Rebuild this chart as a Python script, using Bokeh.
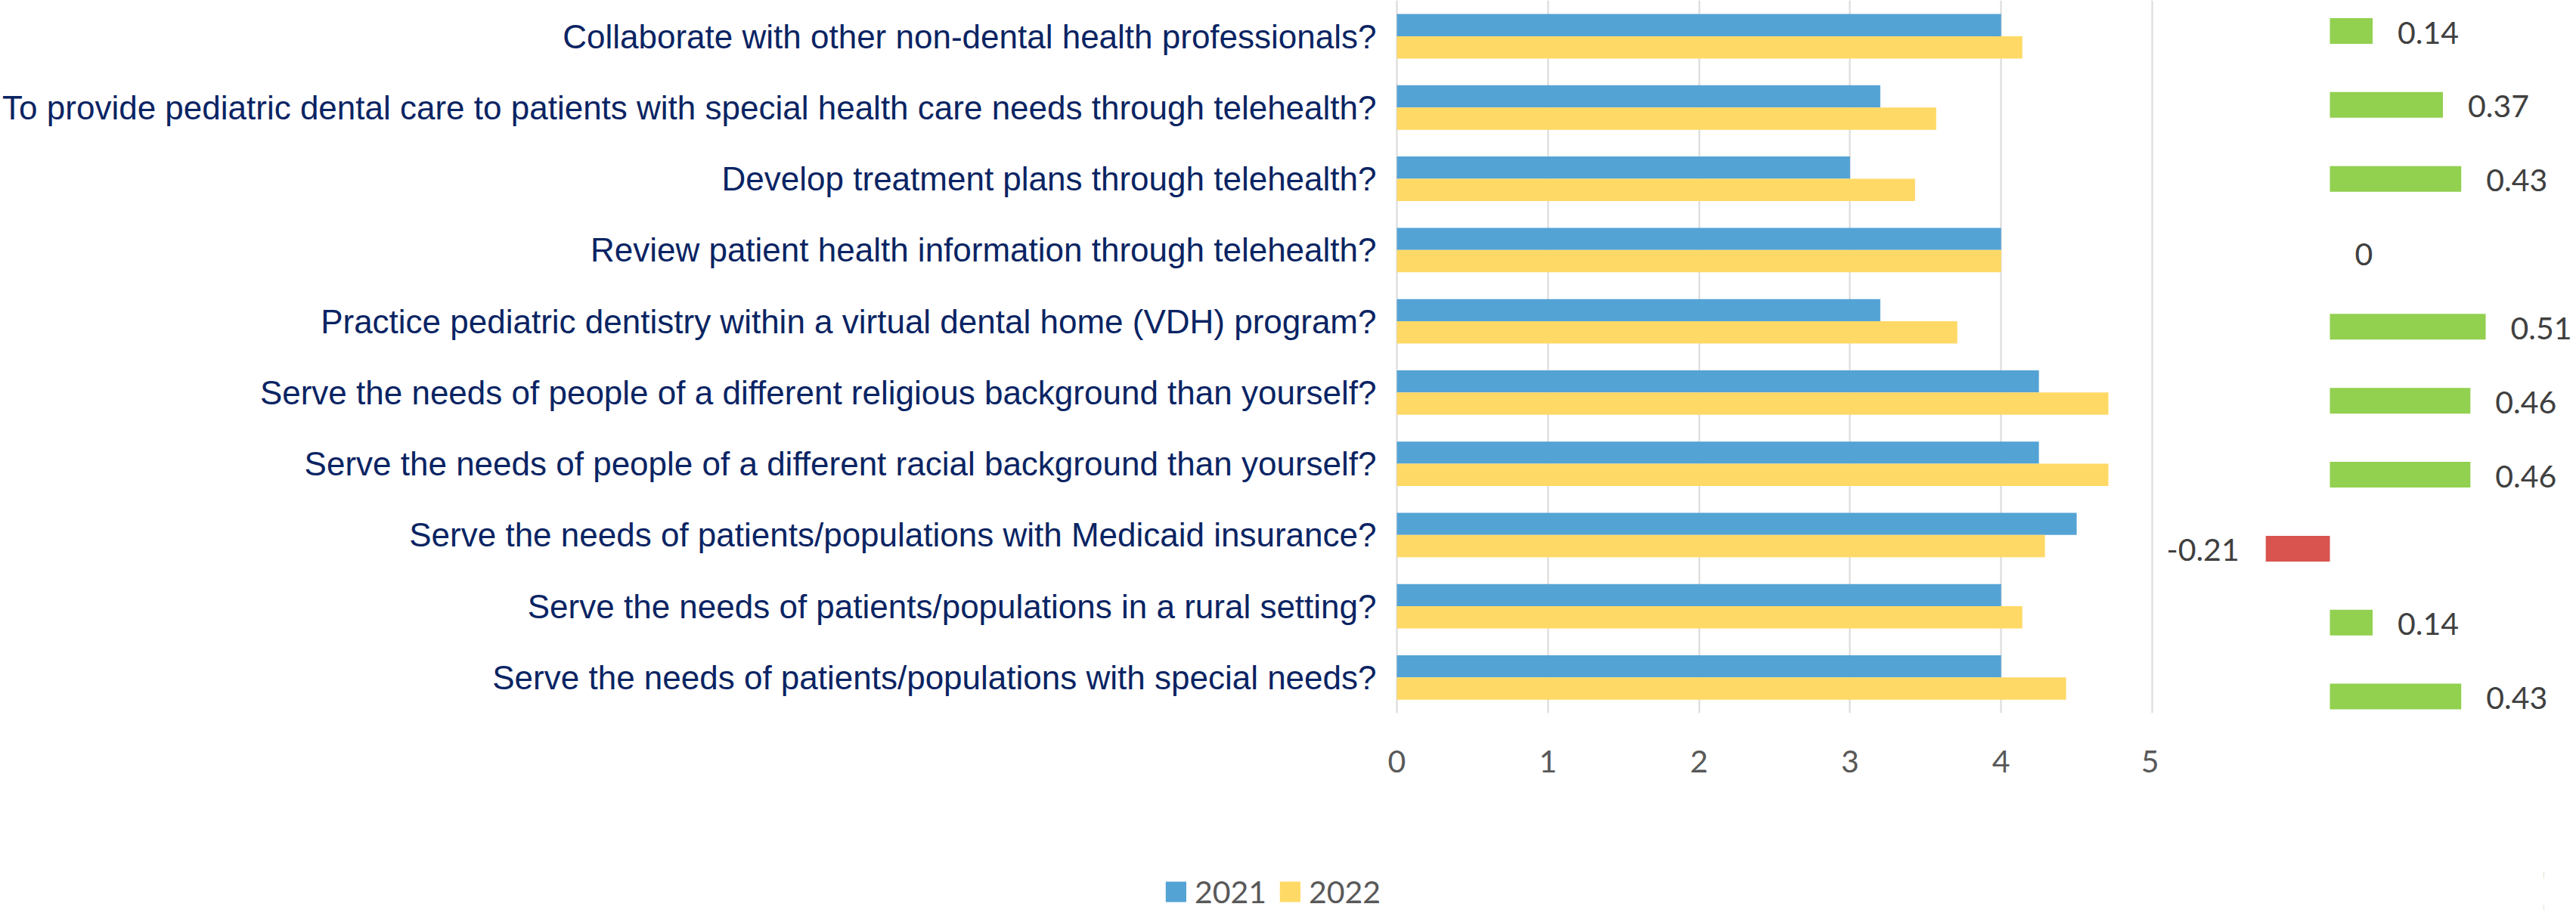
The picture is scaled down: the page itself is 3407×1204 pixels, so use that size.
from bokeh.plotting import figure
from bokeh.models import Range1d, FixedTicker, ColumnDataSource, Legend, LegendItem
from bokeh.layouts import row, column
from bokeh.transform import dodge
from bokeh.embed import file_html
from bokeh.resources import INLINE
from bokeh.core.properties import value

# ---------------- data ----------------
categories = [
    "Collaborate with other non-dental health professionals?",
    "To provide pediatric dental care to patients with special health care needs through telehealth?",
    "Develop treatment plans through telehealth?",
    "Review patient health information through telehealth?",
    "Practice pediatric dentistry within a virtual dental home (VDH) program?",
    "Serve the needs of people of a different religious background than yourself?",
    "Serve the needs of people of a different racial background than yourself?",
    "Serve the needs of patients/populations with Medicaid insurance?",
    "Serve the needs of patients/populations in a rural setting?",
    "Serve the needs of patients/populations with special needs?",
]
series_names = ["2021", "2022"]
values_2021 = [4.0, 3.2, 3.0, 4.0, 3.2, 4.25, 4.25, 4.5, 4.0, 4.0]
values_2022 = [4.14, 3.57, 3.43, 4.0, 3.71, 4.71, 4.71, 4.29, 4.14, 4.43]
change = [0.14, 0.37, 0.43, 0, 0.51, 0.46, 0.46, -0.21, 0.14, 0.43]
x_ticks = [0, 1, 2, 3, 4, 5]

# ---------------- styles ----------------
BLUE = "#54A3D5"
YELLOW = "#FFD966"
GREEN = "#92D050"
RED = "#D9534F"
NAVY = "#0A2463"
TICK_GRAY = "#595959"
LABEL_GRAY = "#404040"
NUM_FONT = "Lato"
NUM_SIZE = "41px"

idx = list(range(len(categories)))

# ---------------- main chart ----------------
p1 = figure(width=2855, height=1060,
            x_range=Range1d(-0.02, 5.02), y_range=Range1d(9.5, -0.504),
            output_backend="svg", toolbar_location=None,
            min_border_left=1838, min_border_right=5,
            min_border_top=0, min_border_bottom=117)
p1.outline_line_color = None
p1.background_fill_color = "white"
p1.border_fill_color = "white"

src = ColumnDataSource(dict(idx=idx, v21=values_2021, v22=values_2022))
p1.hbar(y=dodge("idx", -0.156), left=0, right="v21", height=0.312,
        fill_color=BLUE, line_color=None, source=src)
p1.hbar(y=dodge("idx", 0.156), left=0, right="v22", height=0.312,
        fill_color=YELLOW, line_color=None, source=src)

p1.xaxis.ticker = FixedTicker(ticks=x_ticks)
p1.xgrid.ticker = FixedTicker(ticks=x_ticks)
p1.xgrid.grid_line_color = "#D9D9D9"
p1.xgrid.grid_line_width = 2
p1.ygrid.visible = False
p1.xaxis.axis_line_color = None
p1.xaxis.major_tick_line_color = None
p1.xaxis.minor_tick_line_color = None
p1.xaxis.major_label_text_font = NUM_FONT
p1.xaxis.major_label_text_font_size = NUM_SIZE
p1.xaxis.major_label_text_color = TICK_GRAY
p1.xaxis.major_label_standoff = 43

p1.yaxis.ticker = FixedTicker(ticks=idx)
p1.yaxis.major_label_overrides = {i: c for i, c in zip(idx, categories)}
p1.yaxis.axis_line_color = None
p1.yaxis.major_tick_line_color = None
p1.yaxis.minor_tick_line_color = None
p1.yaxis.major_label_text_font = "Liberation Sans"
p1.yaxis.major_label_text_font_size = "44px"
p1.yaxis.major_label_text_color = NAVY
p1.yaxis.major_label_standoff = 17

# ---------------- change panel ----------------
p2 = figure(width=552, height=1060,
            x_range=Range1d(-226 / 404, 326 / 404), y_range=Range1d(9.224, -0.414),
            output_backend="svg", toolbar_location=None,
            x_axis_location=None, y_axis_location=None,
            min_border_left=0, min_border_right=0, min_border_top=0, min_border_bottom=117)
p2.outline_line_color = None
p2.grid.visible = False
p2.background_fill_color = "white"
p2.border_fill_color = "white"

src2 = ColumnDataSource(dict(
    idx=idx,
    change=change,
    color=[GREEN if d >= 0 else RED for d in change],
    label=[f"{d:g}" for d in change],
    align=["left" if d >= 0 else "right" for d in change],
    xoff=[33 if d >= 0 else -35 for d in change],
))
p2.hbar(y="idx", left=0, right="change", height=0.3475,
        fill_color="color", line_color=None, source=src2)
p2.text(x="change", y="idx", text="label", source=src2,
        text_align="align", x_offset="xoff", y_offset=2,
        text_baseline="middle", text_font=value(NUM_FONT),
        text_font_size=value(NUM_SIZE), text_color=LABEL_GRAY)

# ---------------- legend strip ----------------
# proxy renderers (same series, outside this strip's visible range) feed the legend
p3 = figure(width=3407, height=144, x_range=Range1d(-2, -1), y_range=Range1d(0, 1),
            output_backend="svg", toolbar_location=None,
            x_axis_location=None, y_axis_location=None,
            min_border_left=0, min_border_right=43, min_border_top=94, min_border_bottom=0)
p3.outline_line_color = None
p3.grid.visible = False
p3.background_fill_color = "white"
p3.border_fill_color = "white"
l21 = p3.hbar(y="idx", left=0, right="v21", height=0.3, fill_color=BLUE,
              line_color=None, source=src)
l22 = p3.hbar(y="idx", left=0, right="v22", height=0.3, fill_color=YELLOW,
              line_color=None, source=src)
legend = Legend(items=[LegendItem(label=series_names[0], renderers=[l21]),
                       LegendItem(label=series_names[1], renderers=[l22])],
                orientation="horizontal", location="center",
                glyph_width=34, glyph_height=34, label_standoff=8, spacing=14,
                padding=0, margin=0, border_line_color=None,
                background_fill_alpha=0,
                label_text_font=NUM_FONT, label_text_font_size=NUM_SIZE,
                label_text_color=TICK_GRAY)
p3.add_layout(legend, "center")

layout = column(row(p1, p2), p3)
open("out.html", "w").write(file_html(layout, INLINE))
